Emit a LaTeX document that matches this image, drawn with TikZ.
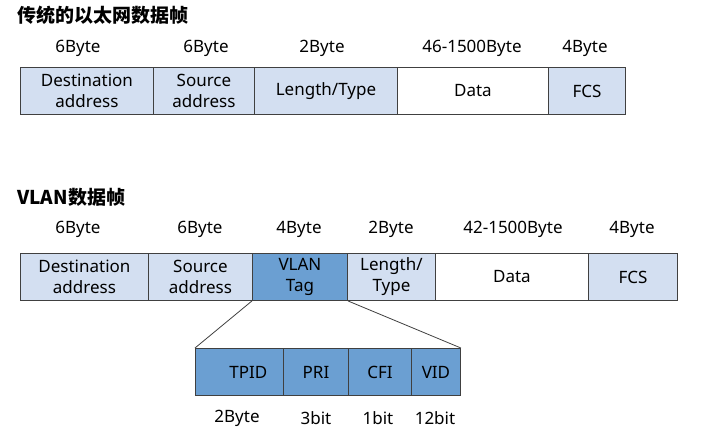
\documentclass[tikz,border=0pt]{standalone}
\usepackage{fontspec}
\setmainfont{Noto Sans}
\newfontfamily\cjk{Noto Sans CJK SC}
\usetikzlibrary{positioning}
\definecolor{lightfield}{HTML}{D3DFF1}
\definecolor{tagfield}{HTML}{6B9FD2}
\tikzset{
  field/.style={draw=black!75,line width=0.9pt,fill=lightfield,minimum height=47pt,
    inner sep=0pt,align=center,font=\fontsize{17}{21}\selectfont,anchor=north west},
  size/.style={font=\fontsize{17}{20}\selectfont},
  title/.style={font=\cjk\bfseries\fontsize{19}{22}\selectfont,anchor=west}
}
\begin{document}
\begin{tikzpicture}[x=1pt,y=-1pt]
\useasboundingbox (0,0) rectangle (711,441);
% ordinary frame
\node[title] (t1) at (14,15) {传统的以太网数据帧};
\node[field,minimum width=133pt] (dst) at (20,67) {Destination\\address};
\node[field,minimum width=101pt] (src) at (153,67) {Source\\address};
\node[field,minimum width=143pt] (lt) at (254,67) {Length/Type};
\node[field,minimum width=151pt,fill=white] (data) at (397,67) {Data};
\node[field,minimum width=77pt] (fcs) at (548,67) {FCS};
\node[size] at (78,48) {6Byte};
\node[size] at (206,48) {6Byte};
\node[size] at (322,48) {2Byte};
\node[size] at (472,48) {46-1500Byte};
\node[size] at (585,48) {4Byte};
% VLAN frame
\node[title] (t2) at (14,197) {VLAN数据帧};
\node[field,minimum width=128pt] (vdst) at (20,253) {Destination\\address};
\node[field,minimum width=104pt] (vsrc) at (148,253) {Source\\address};
\node[field,minimum width=95pt,fill=tagfield] (tag) at (252,253) {VLAN\\Tag};
\node[field,minimum width=88pt] (vlt) at (347,253) {Length/\\Type};
\node[field,minimum width=153pt,fill=white] (vdata) at (435,253) {Data};
\node[field,minimum width=89pt] (vfcs) at (588,253) {FCS};
\node[size] at (78,229) {6Byte};
\node[size] at (200,229) {6Byte};
\node[size] at (299,229) {4Byte};
\node[size] at (391,229) {2Byte};
\node[size] at (513,229) {42-1500Byte};
\node[size] at (632,229) {4Byte};
% tag detail
\node[field,minimum width=88pt,fill=tagfield] (tpid) at (195,348) {\hspace*{18pt}TPID};
\node[field,minimum width=65pt,fill=tagfield] (pri) at (283,348) {PRI};
\node[field,minimum width=63pt,fill=tagfield] (cfi) at (348,348) {CFI};
\node[field,minimum width=49pt,fill=tagfield] (vid) at (411,348) {VID};
\draw[black!75,line width=0.8pt] (tag.south west) -- (tpid.north west);
\draw[black!75,line width=0.8pt] (tag.south east) -- (vid.north east);
\node[size] at (237,418) {2Byte};
\node[size] at (316,418) {3bit};
\node[size] at (378,418) {1bit};
\node[size] at (435,418) {12bit};
\end{tikzpicture}
\end{document}
